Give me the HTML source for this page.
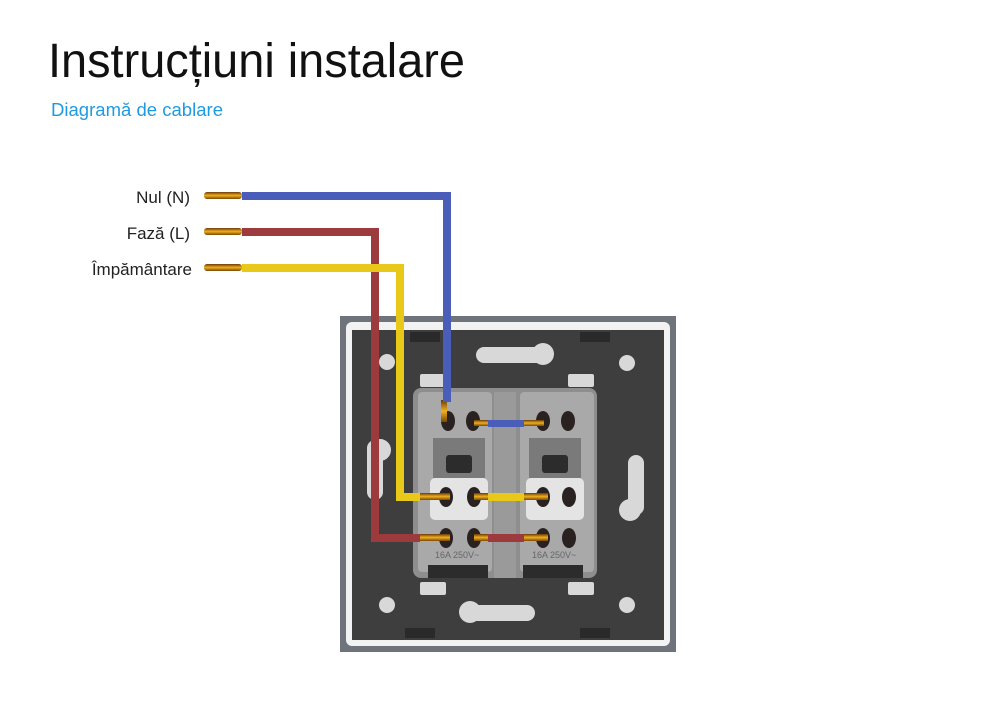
<!DOCTYPE html>
<html><head><meta charset="utf-8"><style>
html,body{margin:0;padding:0;background:#fff;}
svg{display:block;}
text{font-family:"Liberation Sans",sans-serif;}
</style></head><body>
<svg width="1000" height="709" viewBox="0 0 1000 709" xmlns="http://www.w3.org/2000/svg">
<defs>
<linearGradient id="cu" x1="0" y1="0" x2="0" y2="1">
<stop offset="0" stop-color="#6b3a05"/><stop offset="0.5" stop-color="#f0b020"/><stop offset="1" stop-color="#7a4806"/>
</linearGradient>
</defs>
<text x="48" y="77" font-size="48" fill="#111" textLength="417" lengthAdjust="spacingAndGlyphs">Instrucțiuni instalare</text>
<text x="51" y="116" font-size="18" fill="#1e9be0" textLength="172" lengthAdjust="spacingAndGlyphs">Diagramă de cablare</text>
<text x="190" y="203" font-size="17" fill="#222" text-anchor="end">Nul (N)</text>
<text x="190" y="239" font-size="17" fill="#222" text-anchor="end">Fază (L)</text>
<text x="192" y="275" font-size="17" fill="#222" text-anchor="end">Împământare</text>

<!-- plate -->
<rect x="340" y="316" width="336" height="336" fill="#6e737c"/>
<rect x="346" y="322" width="324" height="324" rx="6" fill="#f2f2f2"/>
<rect x="352" y="330" width="312" height="310" fill="#3e3e3e"/>
<!-- holes/slots -->
<g fill="#d8d8d8">
<rect x="476" y="347" width="75" height="16" rx="8"/><circle cx="543" cy="354" r="11"/>
<rect x="460" y="605" width="75" height="16" rx="8"/><circle cx="470" cy="612" r="11"/>
<rect x="367" y="440" width="16" height="60" rx="8"/><circle cx="380" cy="450" r="11"/>
<rect x="628" y="455" width="16" height="60" rx="8"/><circle cx="630" cy="510" r="11"/>
<circle cx="387" cy="362" r="8"/><circle cx="627" cy="363" r="8"/>
<circle cx="387" cy="605" r="8"/><circle cx="627" cy="605" r="8"/>
<rect x="420" y="374" width="26" height="13" rx="2"/><rect x="568" y="374" width="26" height="13" rx="2"/>
<rect x="420" y="582" width="26" height="13" rx="2"/><rect x="568" y="582" width="26" height="13" rx="2"/>
</g>
<g fill="#2a2a2a">
<rect x="410" y="332" width="30" height="10"/><rect x="580" y="332" width="30" height="10"/>
<rect x="405" y="628" width="30" height="10"/><rect x="580" y="628" width="30" height="10"/>
</g>
<!-- modules -->
<rect x="413" y="388" width="184" height="190" rx="8" fill="#8e8e8e"/>
<rect x="418" y="392" width="74" height="180" rx="4" fill="#a9a9a9"/>
<rect x="520" y="392" width="74" height="180" rx="4" fill="#a9a9a9"/>
<rect x="494" y="392" width="22" height="186" fill="#9a9a9a"/>
<g>
<rect x="430" y="478" width="58" height="42" rx="5" fill="#e4e4e4"/>
<rect x="526" y="478" width="58" height="42" rx="5" fill="#e4e4e4"/>
<rect x="433" y="438" width="52" height="40" fill="#7a7a7a"/><rect x="529" y="438" width="52" height="40" fill="#7a7a7a"/>
<rect x="446" y="455" width="26" height="18" rx="3" fill="#2c2c2c"/><rect x="542" y="455" width="26" height="18" rx="3" fill="#2c2c2c"/>
<rect x="428" y="565" width="60" height="13" fill="#2c2c2c"/><rect x="523" y="565" width="60" height="13" fill="#2c2c2c"/>
</g>
<g fill="#2a2220">
<ellipse cx="448" cy="421" rx="7" ry="10"/><ellipse cx="473" cy="421" rx="7" ry="10"/>
<ellipse cx="543" cy="421" rx="7" ry="10"/><ellipse cx="568" cy="421" rx="7" ry="10"/>
<ellipse cx="446" cy="497" rx="7" ry="10"/><ellipse cx="474" cy="497" rx="7" ry="10"/>
<ellipse cx="543" cy="497" rx="7" ry="10"/><ellipse cx="569" cy="497" rx="7" ry="10"/>
<ellipse cx="446" cy="538" rx="7" ry="10"/><ellipse cx="474" cy="538" rx="7" ry="10"/>
<ellipse cx="543" cy="538" rx="7" ry="10"/><ellipse cx="569" cy="538" rx="7" ry="10"/>
</g>
<text x="435" y="558" font-size="9" fill="#666">16A 250V~</text>
<text x="532" y="558" font-size="9" fill="#666">16A 250V~</text>

<!-- copper ends -->
<g fill="url(#cu)">
<rect x="204" y="192" width="38" height="7" rx="3"/>
<rect x="204" y="228" width="38" height="7" rx="3"/>
<rect x="204" y="264" width="38" height="7" rx="3"/>
<rect x="420" y="534" width="30" height="7"/><rect x="474" y="534" width="74" height="7"/>
<rect x="420" y="493" width="30" height="7"/><rect x="474" y="493" width="74" height="7"/>
<rect x="474" y="420" width="70" height="6"/>
<rect x="441" y="400" width="6" height="22"/>
</g>
<!-- wires -->
<g fill="none" stroke-width="8" stroke-linejoin="miter">
<polyline points="242,196 447,196 447,402" stroke="#4a5db8"/>
<polyline points="242,232 375,232 375,538 420,538" stroke="#9c3a3e"/>
<polyline points="242,268 400,268 400,497 420,497" stroke="#e8c818"/>
</g>
<rect x="488" y="420" width="36" height="7" fill="#4a5db8"/>
<rect x="488" y="493" width="36" height="8" fill="#e8c818"/>
<rect x="488" y="534" width="36" height="8" fill="#9c3a3e"/>
</svg>
</body></html>
